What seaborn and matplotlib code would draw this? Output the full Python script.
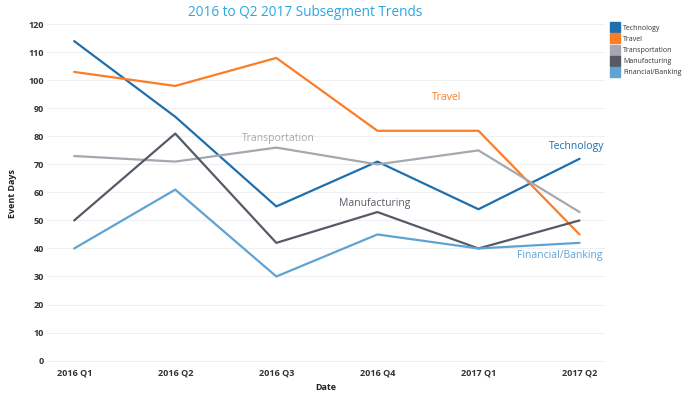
import matplotlib
matplotlib.use("Agg")
import matplotlib.pyplot as plt
import seaborn as sns
import pandas as pd
from matplotlib.lines import Line2D

quarters = ["2016 Q1", "2016 Q2", "2016 Q3", "2016 Q4", "2017 Q1", "2017 Q2"]
technology = [114, 87, 55, 71, 54, 72]
travel = [103, 98, 108, 82, 82, 45]
transportation = [73, 71, 76, 70, 75, 53]
manufacturing = [50, 81, 42, 53, 40, 50]
financial = [40, 61, 30, 45, 40, 42]
segments = ["Technology", "Travel", "Transportation", "Manufacturing", "Financial/Banking"]
y_ticks = list(range(0, 121, 10))

colors = {
    "Technology": "#1f6fad",
    "Travel": "#fb7d25",
    "Transportation": "#a5a8b0",
    "Manufacturing": "#555b66",
    "Financial/Banking": "#5fa3d3",
}

series = [technology, travel, transportation, manufacturing, financial]
rows = []
for seg, vals in zip(segments, series):
    for i, (q, v) in enumerate(zip(quarters, vals)):
        rows.append({"Date": i, "Quarter": q, "Event Days": v, "Segment": seg})
df = pd.DataFrame(rows)

sns.set_theme(style="white")
plt.rcParams["font.family"] = ["Open Sans", "DejaVu Sans"]

fig = plt.figure(figsize=(7.0, 3.98), dpi=100)
ax = fig.add_axes([0.067, 0.080, 0.797, 0.866])

sns.lineplot(data=df, x="Date", y="Event Days", hue="Segment", hue_order=segments,
             palette=colors, linewidth=1.6, ax=ax, legend=False, sort=False)

ax.set_xlim(-0.27, 5.25)
ax.set_ylim(-2, 121)
ax.set_xticks(range(len(quarters)))
ax.set_xticklabels(quarters, fontsize=6.5, fontweight="bold", color="#333333")
ax.set_yticks(y_ticks)
ax.set_yticklabels([str(t) for t in y_ticks], fontsize=6.5, fontweight="bold", color="#333333")
ax.tick_params(axis="both", length=0, pad=2)
ax.grid(axis="y", color="#f0f0f0", linewidth=0.8)
ax.set_axisbelow(True)
for s in ax.spines.values():
    s.set_visible(False)

ax.set_xlabel("Date", fontsize=6.5, fontweight="bold", color="#222222", labelpad=4)
ax.set_ylabel("Event Days", fontsize=6.5, fontweight="bold", color="#222222", labelpad=8)

fig.text(0.436, 0.968, "2016 to Q2 2017 Subsegment Trends", ha="center", va="center",
         fontsize=9.8, fontweight="normal", color="#2aa7e1")

labels = [
    ("Travel", 3.69, 94, "Travel"),
    ("Transportation", 2.02, 79.4, "Transportation"),
    ("Technology", 4.97, 76.5, "Technology"),
    ("Manufacturing", 2.97, 55.9, "Manufacturing"),
    ("Financial/Banking", 4.80, 37.6, "Financial/Banking"),
]
for text, x, y, seg in labels:
    ax.text(x, y, text, ha="center", va="center", fontsize=7.5, fontweight="medium",
            color=colors[seg])

handles = [Line2D([0], [0], marker="s", linestyle="none", markersize=6.5,
                  markerfacecolor=colors[s], markeredgecolor=colors[s]) for s in segments]
fig.legend(handles, segments, loc="upper left", bbox_to_anchor=(0.870, 0.945),
           frameon=False, fontsize=5, handletextpad=0.6, labelspacing=0.6,
           borderaxespad=0, handlelength=1.0, labelcolor="#333333")

fig.savefig("out.png", dpi=100)
